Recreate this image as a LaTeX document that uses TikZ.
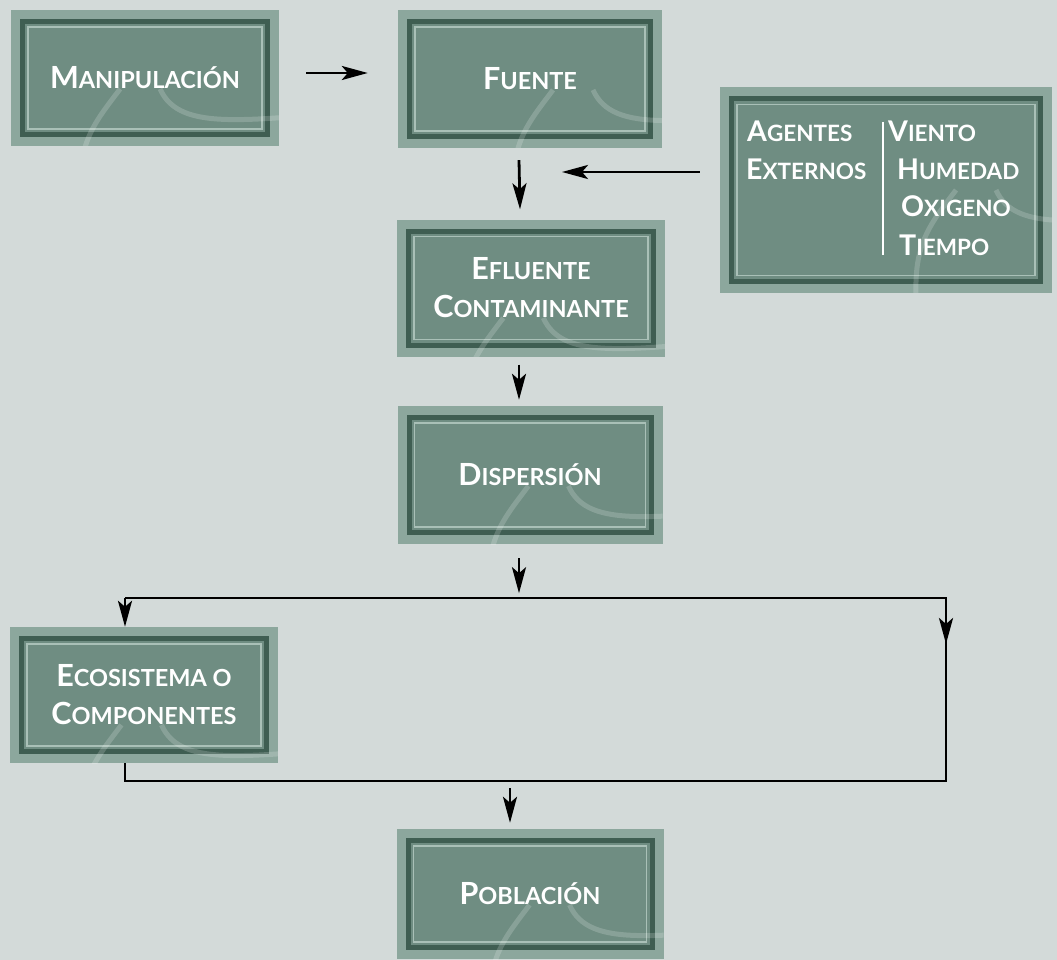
\documentclass[tikz,border=0pt]{standalone}
\usepackage{fontspec}
\setmainfont{Lato}
\usetikzlibrary{arrows.meta,positioning}

\definecolor{fondo}{HTML}{D3DAD9}
\definecolor{cajaborde}{HTML}{8CA79D}
\definecolor{cajaoscuro}{HTML}{3F5E52}
\definecolor{cajaclaro}{HTML}{A9C0B7}
\definecolor{cajafondo}{HTML}{6F8D82}

% versalitas hechas a mano: inicial grande, resto menor
\newcommand{\gr}[2]{{\fontsize{30.5}{31}\selectfont #1}{\fontsize{23.5}{25}\selectfont #2}}
\newcommand{\pq}[2]{{\fontsize{28.5}{29}\selectfont #1}{\fontsize{22.5}{23}\selectfont #2}}

\tikzset{
  caja/.style={fill=cajaborde, inner sep=0pt, text=white, align=center,
    font=\fontsize{22}{38}\selectfont\bfseries,
    path picture={
      \fill[cajaoscuro] ([shift={(9pt,9pt)}]path picture bounding box.south west)
        rectangle ([shift={(-9pt,-9pt)}]path picture bounding box.north east);
      \fill[cajafondo] ([shift={(14pt,14pt)}]path picture bounding box.south west)
        rectangle ([shift={(-14pt,-14pt)}]path picture bounding box.north east);
      \draw[cajaclaro, line width=1.2pt] ([shift={(17pt,17pt)}]path picture bounding box.south west)
        rectangle ([shift={(-17pt,-17pt)}]path picture bounding box.north east);
      \begin{scope}[shift={(path picture bounding box.north west)}, white, opacity=.18, line width=5pt]
        \draw (70pt,0pt) .. controls (40pt,-40pt) and (20pt,-60pt) .. (35pt,-150pt);
        \draw (110pt,0pt) .. controls (130pt,-45pt) and (200pt,-30pt) .. (340pt,-20pt);
        \draw (150pt,-150pt) .. controls (200pt,-100pt) and (240pt,-70pt) .. (340pt,-60pt);
      \end{scope}
    }},
  texto/.style={text=white, inner sep=0pt, font=\bfseries},
  flecha/.style={-{Stealth[length=26pt,width=14pt,inset=6pt]}, line width=2.8pt},
  linea/.style={line width=2.8pt},
}

\begin{document}
\begin{tikzpicture}[x=1pt,y=-1pt]
\fill[fondo] (0,0) rectangle (1057,960);
\useasboundingbox (0,0) rectangle (1057,960);

% cajas
\node[caja, minimum width=268pt, minimum height=136pt] (manip) at (145,78) {\gr{M}{ANIPULACIÓN}};
\node[caja, minimum width=264pt, minimum height=138pt] (fuente) at (530,79) {\gr{F}{UENTE}};
\node[caja, minimum width=332pt, minimum height=205pt] (agentes) at (886,190) {};
\node[caja, minimum width=268pt, minimum height=137pt] (eflu) at (531,288) {\gr{E}{FLUENTE}\\\gr{C}{ONTAMINANTE}};
\node[caja, minimum width=265pt, minimum height=138pt] (disp) at (530,475) {\gr{D}{ISPERSIÓN}};
\node[caja, minimum width=268pt, minimum height=136pt] (eco) at (144,695) {\gr{E}{COSISTEMA O}\\\gr{C}{OMPONENTES}};
\node[caja, minimum width=267pt, minimum height=130pt] (pobl) at (530,894) {\gr{P}{OBLACIÓN}};

% textos de agentes externos
\node[texto, anchor=base west] (agen) at (747,142) {\pq{A}{GENTES}};
\node[texto, anchor=base west] (exte) at (746,180) {\pq{E}{XTERNOS}};
\node[texto, anchor=base west] (vien) at (888,142) {\pq{V}{IENTO}};
\node[texto, anchor=base west] (hume) at (897,180) {\pq{H}{UMEDAD}};
\node[texto, anchor=base west] (oxig) at (901,217) {\pq{O}{XIGENO}};
\node[texto, anchor=base west] (tiem) at (899,255) {\pq{T}{IEMPO}};
\coordinate (sepA) at (883,122);
\coordinate (sepB) at (883,255);
\draw[white, line width=1.6pt] (sepA) -- (sepB);

% flechas
\coordinate (entrada) at (562,172);
\draw[flecha, shorten <=27pt, shorten >=30pt] (manip.east |- 0,73) -- (fuente.west |- 0,73);
\draw[flecha, shorten <=20pt] (agentes.west |- entrada) -- (entrada);
\draw[flecha] ([xshift=-11pt,yshift=-12pt]fuente.south) -- ([xshift=-11pt,yshift=10pt]eflu.north);
\draw[flecha] ([xshift=-12pt,yshift=-8pt]eflu.south) -- ([xshift=-11pt,yshift=6pt]disp.north);
\draw[flecha] ([xshift=-11pt,yshift=-14pt]disp.south) -- ([xshift=-11pt,yshift=-49pt]disp.south);

\coordinate (repI) at (125,598);
\coordinate (repD) at (946,598);
\coordinate (junI) at (125,781);
\coordinate (junD) at (946,781);
\draw[linea] (repI) -- (repD) -- (junD) -- (junI) -- (eco.south -| junI);
\draw[flecha] (repI) -- (eco.north -| repI);
\draw[flecha] (repD) -- ++(0,46);
\draw[flecha] ([yshift=-7pt]junI -| pobl.north) ++(-20,0) -- ([xshift=-20pt,yshift=6pt]pobl.north);
\end{tikzpicture}
\end{document}
